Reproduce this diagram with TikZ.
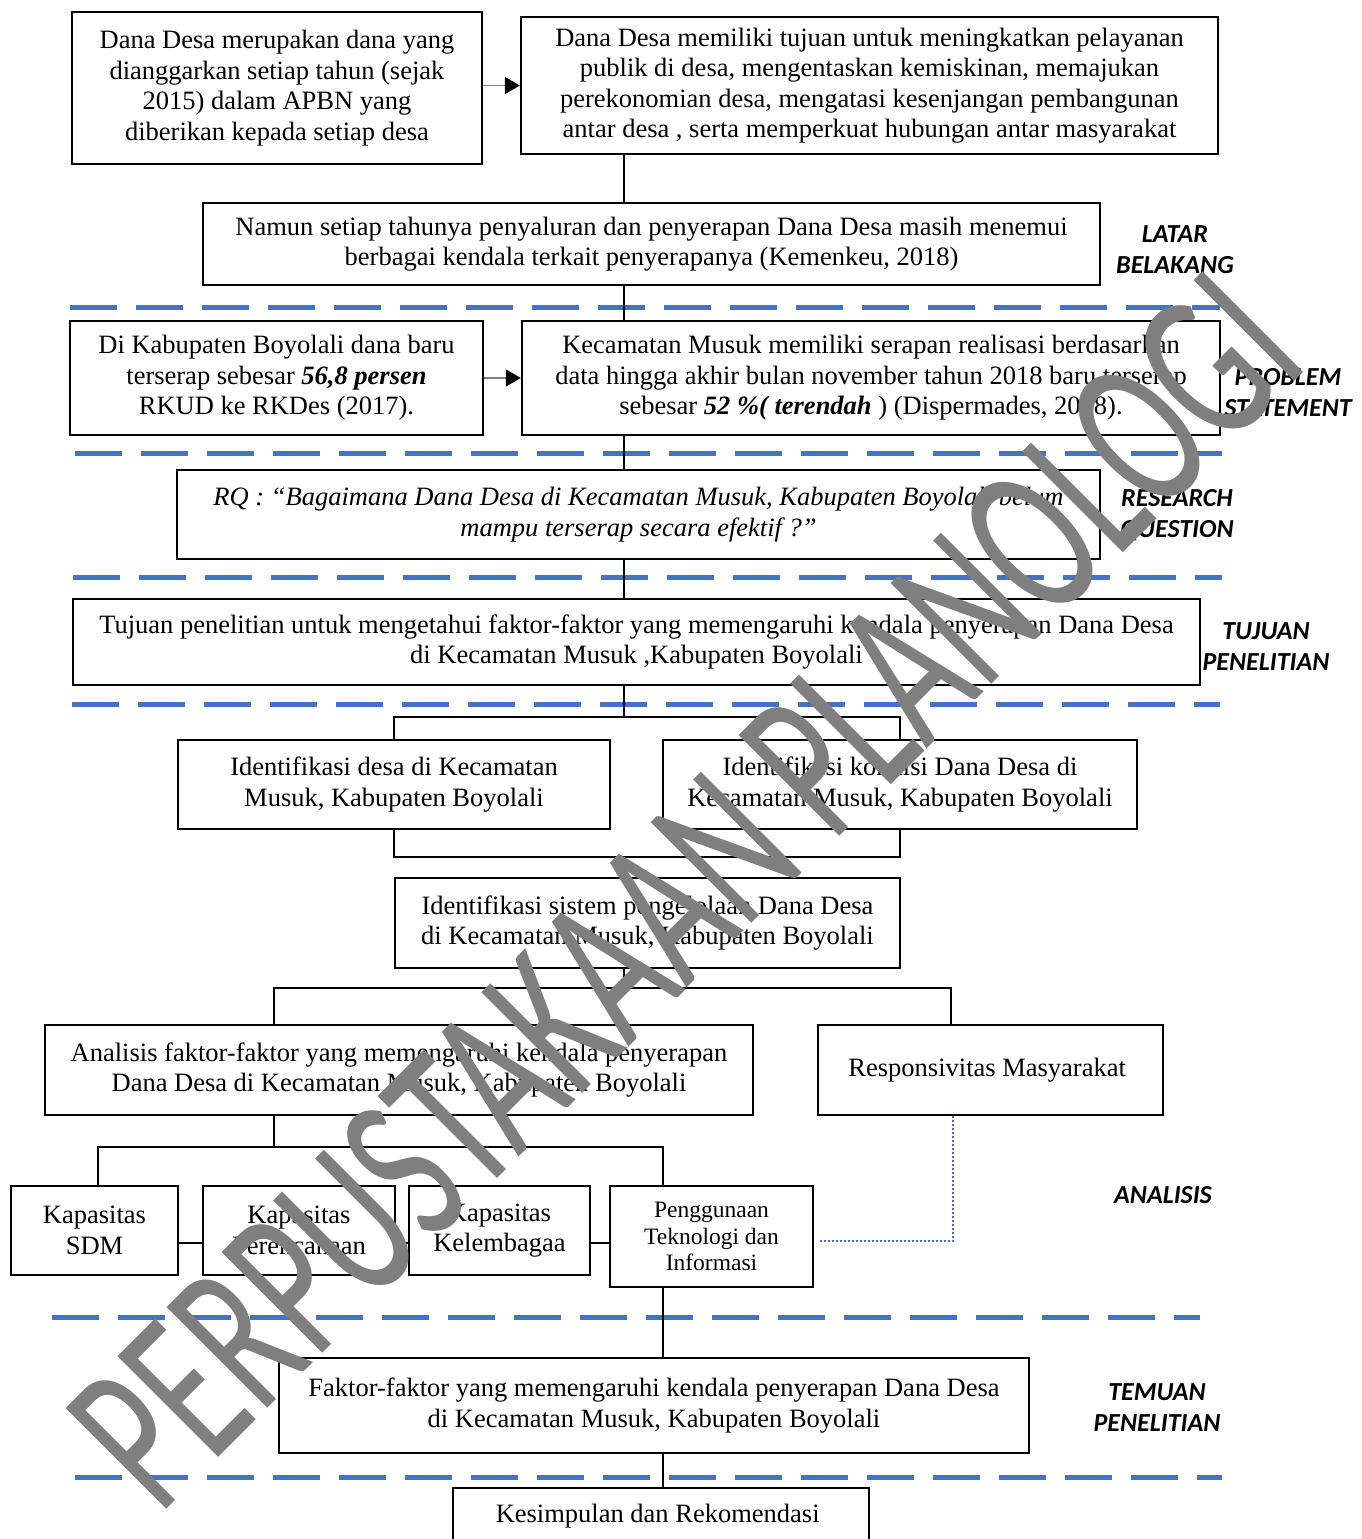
\documentclass[tikz,border=0pt]{standalone}
\usepackage{fontspec}
\setmainfont{Liberation Serif}
\newfontfamily\labelfont{Carlito}
\usepackage{xcolor}
\usepackage{tikz}
\usetikzlibrary{arrows.meta}

\definecolor{secblue}{HTML}{4472C4}
\definecolor{markgray}{HTML}{7F7F7F}
\newcommand{\boxfont}{\fontsize{26.5}{30.5}\selectfont}

\begin{document}
\begin{tikzpicture}[x=1pt, y=-1pt,
  box/.style={draw, line width=2.4pt, align=center, inner sep=0pt, font=\boxfont},
  smallbox/.style={box, font=\fontsize{23.5}{26.5}\selectfont},
  tag/.style={font=\labelfont\bfseries\itshape\fontsize{26}{31}\selectfont, align=center},
  link/.style={line width=1.6pt},
  arr/.style={draw=gray, line width=1.6pt, -{Triangle[length=15pt, width=17pt, color=black]}},
  dotlink/.style={draw=secblue, line width=1.6pt, dash pattern=on 2pt off 2pt, shorten <=6pt},
  divider/.style={draw=secblue, line width=5pt, dash pattern=on 47pt off 19pt},
  watermark/.style={text=markgray, rotate=45, inner sep=0pt,
                    font=\labelfont\fontsize{222}{222}\selectfont}
]
  \path[use as bounding box, fill=white] (0,0) rectangle (1362,1539);

  % Section dividers
  \foreach \y/\a/\b in {307/70/1220, 453/75/1222, 577/73/1222, 704/72/1220,
                        1317/52/1200, 1477/75/1222}
    \draw[divider] (\a,\y) -- (\b,\y);

  % Latar belakang
  \node[box, minimum width=410, minimum height=152] (dana) at (277,88) {
    Dana Desa merupakan dana yang\\
    dianggarkan setiap tahun (sejak\\
    2015) dalam APBN yang\\
    diberikan kepada setiap desa
  };
  \node[box, minimum width=697, minimum height=137] (tujuanDD) at (869.5,85.5) {
    Dana Desa memiliki tujuan untuk meningkatkan pelayanan\\
    publik di desa, mengentaskan kemiskinan, memajukan\\
    perekonomian desa, mengatasi kesenjangan pembangunan\\
    antar desa , serta memperkuat hubungan antar masyarakat
  };
  \node[box, minimum width=897, minimum height=82] (kendala) at (651.5,244) {
    Namun setiap tahunya penyaluran dan penyerapan Dana Desa masih menemui\\
    berbagai kendala terkait penyerapanya (Kemenkeu, 2018)
  };

  % Problem statement
  \node[box, minimum width=413, minimum height=114] (boyolali) at (276.5,378) {
    Di Kabupaten Boyolali dana baru\\
    terserap sebesar \textbf{\textit{56,8 persen}}\\
    RKUD ke RKDes (2017).
  };
  \node[box, minimum width=698, minimum height=114] (musuk) at (871,378) {
    Kecamatan Musuk memiliki serapan realisasi berdasarkan\\
    data hingga akhir bulan november tahun 2018 baru terserap\\
    sebesar \textbf{\textit{52 \%( terendah}} ) (Dispermades, 2018).
  };

  % Research question
  \node[box, font=\boxfont\itshape, minimum width=923, minimum height=89] (rq) at (638.5,514.5) {
    RQ : “Bagaimana Dana Desa di Kecamatan Musuk, Kabupaten Boyolali belum\\
    mampu terserap secara efektif ?”
  };

  % Tujuan penelitian
  \node[box, minimum width=1127, minimum height=86] (tujuan) at (636.5,642) {
    Tujuan penelitian untuk mengetahui faktor-faktor yang memengaruhi kendala penyerapan Dana Desa\\
    di Kecamatan Musuk ,Kabupaten Boyolali
  };

  % Analisis
  \node[box, minimum width=432, minimum height=89] (idDesa) at (394,784.5) {
    Identifikasi desa di Kecamatan\\
    Musuk, Kabupaten Boyolali
  };
  \node[box, minimum width=474, minimum height=89] (idDana) at (900,784.5) {
    Identifikasi kondisi Dana Desa di\\
    Kecamatan Musuk, Kabupaten Boyolali
  };
  \node[box, minimum width=505, minimum height=90] (idSistem) at (647.5,923) {
    Identifikasi sistem pengelolaan Dana Desa\\
    di Kecamatan Musuk, Kabupaten Boyolali
  };
  \node[box, minimum width=708, minimum height=90] (analisis) at (399,1070) {
    Analisis faktor-faktor yang memengaruhi kendala penyerapan\\
    Dana Desa di Kecamatan Musuk, Kabupaten Boyolali
  };
  \node[box, minimum width=345, minimum height=90] (respon) at (990.5,1070) {
    Responsivitas Masyarakat
  };
  \node[box, minimum width=167, minimum height=89] (sdm) at (94.5,1230.5) {Kapasitas\\ SDM};
  \node[box, minimum width=192, minimum height=89] (rencana) at (299,1230.5) {Kapasitas\\ Perencanaan};
  \node[box, minimum width=181, minimum height=89] (lembaga) at (499.5,1230.5) {Kapasitas\\ Kelembagaa};
  \node[smallbox, minimum width=203, minimum height=101] (tik) at (711.5,1236.5) {
    Penggunaan\\ Teknologi dan\\ Informasi
  };

  % Temuan penelitian
  \node[box, minimum width=750, minimum height=95] (faktor) at (654,1405.5) {
    Faktor-faktor yang memengaruhi kendala penyerapan Dana Desa\\
    di Kecamatan Musuk, Kabupaten Boyolali
  };
  \node[box, minimum width=416, minimum height=57] (simpulan) at (661,1516.5) {
    Kesimpulan dan Rekomendasi
  };

  % Section tags
  \node[tag] (latar) at (1175,250) {LATAR\\ BELAKANG};
  \node[tag] (problem) at (1288,393) {PROBLEM\\ STATEMENT};
  \node[tag] (question) at (1177,515) {RESEARCH\\ QUESTION};
  \node[tag] (tujuanTag) at (1266,647) {TUJUAN\\ PENELITIAN};
  \node[tag] (analisisTag) at (1163,1195) {ANALISIS};
  \node[tag] (temuan) at (1157,1408) {TEMUAN\\ PENELITIAN};

  % Junctions
  \coordinate (spine) at (624,0);
  \coordinate (j1) at (624,717);
  \coordinate (j2) at (624,857);
  \coordinate (j3) at (624,988);
  \coordinate (j3l) at (274,988);
  \coordinate (j3r) at (951,988);
  \coordinate (j4l) at (98,1147);
  \coordinate (j4) at (274,1147);
  \coordinate (j4r) at (663,1147);
  \coordinate (kap) at (0,1243);

  % Arrows
  \draw[arr] (tujuanDD.west -| dana.east) -- (tujuanDD.west);
  \draw[arr] (boyolali.east) -- (musuk.west);

  % Main spine
  \draw[link] (tujuanDD.south -| spine) -- (kendala.north -| spine);
  \draw[link] (kendala.south -| spine) -- (musuk.north -| spine);
  \draw[link] (musuk.south -| spine) -- (rq.north -| spine);
  \draw[link] (rq.south -| spine) -- (tujuan.north -| spine);
  \draw[link] (tujuan.south -| spine) -- (j1);
  \draw[link] (idDesa.north) -- (idDesa.north |- j1) -- (idDana.north |- j1) -- (idDana.north);
  \draw[link] (idDesa.south) -- (idDesa.south |- j2) -- (idDana.south |- j2) -- (idDana.south);
  \draw[link] (j2) -- (idSistem.north -| spine);
  \draw[link] (idSistem.south -| spine) -- (j3);
  \draw[link] (analisis.north -| j3l) -- (j3l) -- (j3r) -- (respon.north -| j3r);
  \draw[link] (analisis.south -| j4) -- (j4);
  \draw[link] (sdm.north -| j4l) -- (j4l) -- (j4r) -- (tik.north -| j4r);
  \draw[link] (sdm.east |- kap) -- (rencana.west |- kap);
  \draw[link] (rencana.east |- kap) -- (lembaga.west |- kap);
  \draw[link] (lembaga.east |- kap) -- (tik.west |- kap);
  \draw[link] (tik.south -| j4r) -- (faktor.north -| j4r);
  \draw[link] (faktor.south -| j4r) -- (simpulan.north -| j4r);
  \draw[dotlink] ([yshift=-4.5pt]tik.east) -| ([xshift=-37.5pt]respon.south);

  % Watermark
  \node[watermark] (wm) at (685,890) {\scalebox{0.64}[1]{PERPUSTAKAAN PLANOLOGI}};
\end{tikzpicture}
\end{document}
